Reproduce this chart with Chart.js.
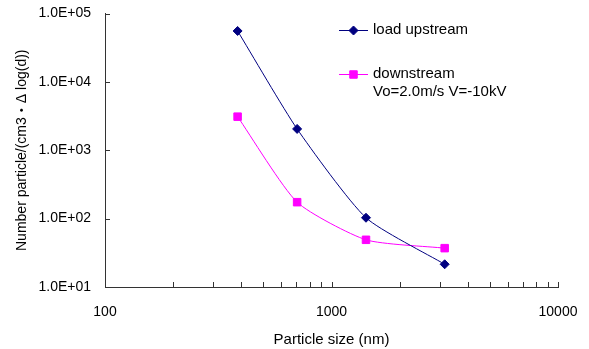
<!DOCTYPE html>
<html>
<head>
<meta charset="utf-8">
<script src="https://cdn.jsdelivr.net/npm/chart.js@4.4.1/dist/chart.umd.min.js"></script>
<style>
  html, body { margin: 0; padding: 0; background: #fff; }
  #wrap { width: 589px; height: 349px; position: relative; }
</style>
</head>
<body>
<div id="wrap"><canvas id="chart"></canvas></div>
<script>
// particle sizes (nm) and counts
const sizes = [385, 705, 1420, 3160];
const upstream = [55500, 2050, 103, 21.5];
const downstream = [3100, 174, 49, 37];

const xTickLabels = [100, 1000, 10000];
const yTickValues = [10, 100, 1000, 10000, 100000];
const yTickLabels = ['1.0E+01', '1.0E+02', '1.0E+03', '1.0E+04', '1.0E+05'];

const legendNames = ['load upstream', 'downstream', 'Vo=2.0m/s V=-10kV'];

const FONT = 'Liberation Sans, Arial, "Noto Sans CJK JP", sans-serif';
const AXIS = '#333333';

// minor tick marks on the log x axis: 1..9 of each decade
function decadeMarks(lo, hi) {
  const out = [];
  for (let d = lo; d < hi; d *= 10) {
    for (let m = 1; m < 10; m++) out.push(d * m);
  }
  out.push(hi);
  return out;
}

// small ticks drawn inside the plot, like the original
const innerTicks = {
  id: 'innerTicks',
  afterDraw(chart) {
    const { ctx, scales: { x, y } } = chart;
    ctx.save();
    ctx.strokeStyle = AXIS;
    ctx.lineWidth = 1;
    ctx.beginPath();
    x.ticks.forEach(t => {
      const px = Math.round(x.getPixelForValue(t.value)) + 0.5;
      ctx.moveTo(px, y.bottom);
      ctx.lineTo(px, y.bottom - 5);
    });
    y.ticks.forEach(t => {
      const py = Math.round(y.getPixelForValue(t.value)) + 0.5;
      ctx.moveTo(x.left, py);
      ctx.lineTo(x.left + 5, py);
    });
    ctx.stroke();
    ctx.restore();
  }
};

// legend in the upper right, second entry has two text lines
const sideLegend = {
  id: 'sideLegend',
  afterDraw(chart) {
    const { ctx } = chart;
    const rows = [
      { ds: 0, y: 30, lines: [legendNames[0]] },
      { ds: 1, y: 74, lines: [legendNames[1], legendNames[2]] },
    ];
    ctx.save();
    ctx.font = '15px ' + FONT;
    ctx.textBaseline = 'middle';
    rows.forEach(r => {
      const ds = chart.data.datasets[r.ds];
      ctx.strokeStyle = ds.borderColor;
      ctx.lineWidth = 1;
      ctx.beginPath();
      ctx.moveTo(339, r.y + 0.5);
      ctx.lineTo(368, r.y + 0.5);
      ctx.stroke();
      ctx.fillStyle = ds.backgroundColor;
      Chart.helpers.drawPoint(ctx, {
        pointStyle: ds.pointStyle,
        radius: ds.pointRadius,
        borderWidth: 1,
      }, 353.5, r.y + 0.5);
      ctx.fillStyle = '#000';
      r.lines.forEach((t, i) => ctx.fillText(t, 373, r.y + i * 18));
    });
    ctx.restore();
  }
};

const toPoints = vals => vals.map((v, i) => ({ x: sizes[i], y: v }));

new Chart(document.getElementById('chart'), {
  type: 'line',
  data: {
    datasets: [
      {
        label: legendNames[0],
        data: toPoints(upstream),
        borderColor: '#000080',
        backgroundColor: '#000080',
        borderWidth: 1,
        pointStyle: 'rectRot',
        pointRadius: 4.5,
        tension: 0.2,
        fill: false,
      },
      {
        label: legendNames[1],
        data: toPoints(downstream),
        borderColor: '#ff00ff',
        backgroundColor: '#ff00ff',
        borderWidth: 1,
        pointStyle: 'rect',
        pointRadius: 5.3,
        tension: 0.2,
        fill: false,
      }
    ]
  },
  options: {
    responsive: true,
    maintainAspectRatio: false,
    animation: false,
    layout: { padding: { top: 13.5, right: 31, left: 0, bottom: 0 } },
    plugins: {
      legend: { display: false },
      tooltip: { enabled: false },
    },
    scales: {
      x: {
        type: 'logarithmic',
        position: 'bottom',
        min: 100,
        max: 10000,
        grid: { display: false, drawTicks: false },
        border: { display: true, color: AXIS, width: 1 },
        afterBuildTicks: s => { s.ticks = decadeMarks(100, 10000).map(v => ({ value: v })); },
        afterFit: s => { s.height = 62; s.paddingLeft = 0; s.paddingRight = 0; },
        ticks: {
          autoSkip: false,
          maxRotation: 0,
          padding: 17,
          color: '#000',
          font: { family: FONT, size: 14 },
          callback: v => xTickLabels.includes(v) ? String(v) : '',
        },
        title: {
          display: true,
          text: 'Particle size (nm)',
          color: '#000',
          font: { family: FONT, size: 15 },
          padding: { top: 2, bottom: 0 },
        }
      },
      y: {
        type: 'logarithmic',
        min: 10,
        max: 100000,
        grid: { display: false, drawTicks: false },
        border: { display: true, color: AXIS, width: 1 },
        afterBuildTicks: s => { s.ticks = yTickValues.map(v => ({ value: v })); },
        afterFit: s => { s.width = 105; s.paddingTop = 0; s.paddingBottom = 0; },
        ticks: {
          padding: 14,
          color: '#000',
          font: { family: FONT, size: 14 },
          callback: v => yTickLabels[yTickValues.indexOf(v)] ?? '',
        },
        title: {
          display: true,
          text: 'Number particle/(cm3・Δ log(d))',
          color: '#000',
          font: { family: FONT, size: 14 },
          padding: { top: 14, bottom: 0 },
        }
      }
    }
  },
  plugins: [innerTicks, sideLegend]
});
</script>
</body>
</html>
